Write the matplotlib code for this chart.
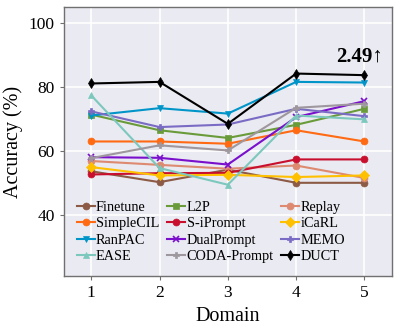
import numpy as np
import matplotlib.pyplot as plt

plt.rcParams['font.family'] = ['Liberation Serif', 'DejaVu Serif']
plt.rcParams['mathtext.fontset'] = 'stix'

# data
domains = [1, 2, 3, 4, 5]
finetune = [53.8, 50.4, 54.3, 50.2, 50.2]
l2p = [71.5, 66.6, 64.2, 68.3, 73.3]
replay = [57.0, 55.8, 54.6, 55.6, 51.7]
simplecil = [63.1, 63.1, 62.4, 66.6, 63.1]
s_iprompt = [52.8, 53.2, 53.3, 57.5, 57.5]
icarl = [55.1, 52.5, 52.7, 52.0, 52.5]
ranpac = [71.2, 73.5, 71.8, 81.7, 81.5]
dualprompt = [58.2, 58.0, 55.9, 70.7, 75.7]
memo = [72.5, 67.6, 68.4, 73.3, 71.0]
ease = [77.5, 54.8, 49.6, 71.2, 70.0]
coda = [57.9, 61.9, 60.3, 73.6, 74.9]
duct = [81.2, 81.7, 68.6, 84.3, 83.8]

series = [
    ('Finetune', finetune, '#8c5a45', 'o'),
    ('L2P', l2p, '#6a9b3a', 's'),
    ('Replay', replay, '#dd8a70', 'o'),
    ('SimpleCIL', simplecil, '#ff6a13', 'o'),
    ('S-iPrompt', s_iprompt, '#c8102e', 'o'),
    ('iCaRL', icarl, '#ffc000', 'D'),
    ('RanPAC', ranpac, '#0095c8', 'v'),
    ('DualPrompt', dualprompt, '#7a0fcc', 'x'),
    ('MEMO', memo, '#7a6cc4', 'P'),
    ('EASE', ease, '#7cc8bd', '^'),
    ('CODA-Prompt', coda, '#9e979e', 'P'),
    ('DUCT', duct, '#000000', 'd'),
]

fig, ax = plt.subplots(figsize=(3.99, 3.29), dpi=100)
fig.subplots_adjust(left=0.16, right=0.982, top=0.978, bottom=0.16)
ax.set_facecolor('#EAEAF2')
ax.grid(True, color='white', linewidth=1.2)
ax.set_axisbelow(True)
for s in ax.spines.values():
    s.set_color('#707070')
    s.set_linewidth(1.0)

handles = []
for name, vals, col, mk in series:
    h, = ax.plot(domains, vals, color=col, marker=mk, markersize=5, linewidth=1.5,
                 markeredgewidth=1.2 if mk == 'x' else 0.5, label=name)
    handles.append(h)

ax.text(4.93, 86.5, '2.49↑', ha='center', va='bottom', fontsize=15, fontweight='bold')

ax.set_xlim(0.6, 5.4)
ax.set_ylim(21, 105)
ax.set_xticks(domains)
ax.set_yticks([40, 60, 80, 100])
ax.tick_params(labelsize=12.5, length=3, color='#707070')
ax.set_xlabel('Domain', fontsize=14.5)
ax.set_ylabel('Accuracy (%)', fontsize=14.5)

# legend filled row by row, 3 columns
order = [0, 3, 6, 9, 1, 4, 7, 10, 2, 5, 8, 11]
ax.legend([handles[i] for i in order], [series[i][0] for i in order],
          ncol=3, loc='lower left', bbox_to_anchor=(0.0, 0.0), frameon=False,
          fontsize=10.3, handlelength=1.25, handletextpad=0.1, columnspacing=0.55,
          labelspacing=0.25, borderaxespad=0.5)

fig.savefig('out.png', dpi=100)
